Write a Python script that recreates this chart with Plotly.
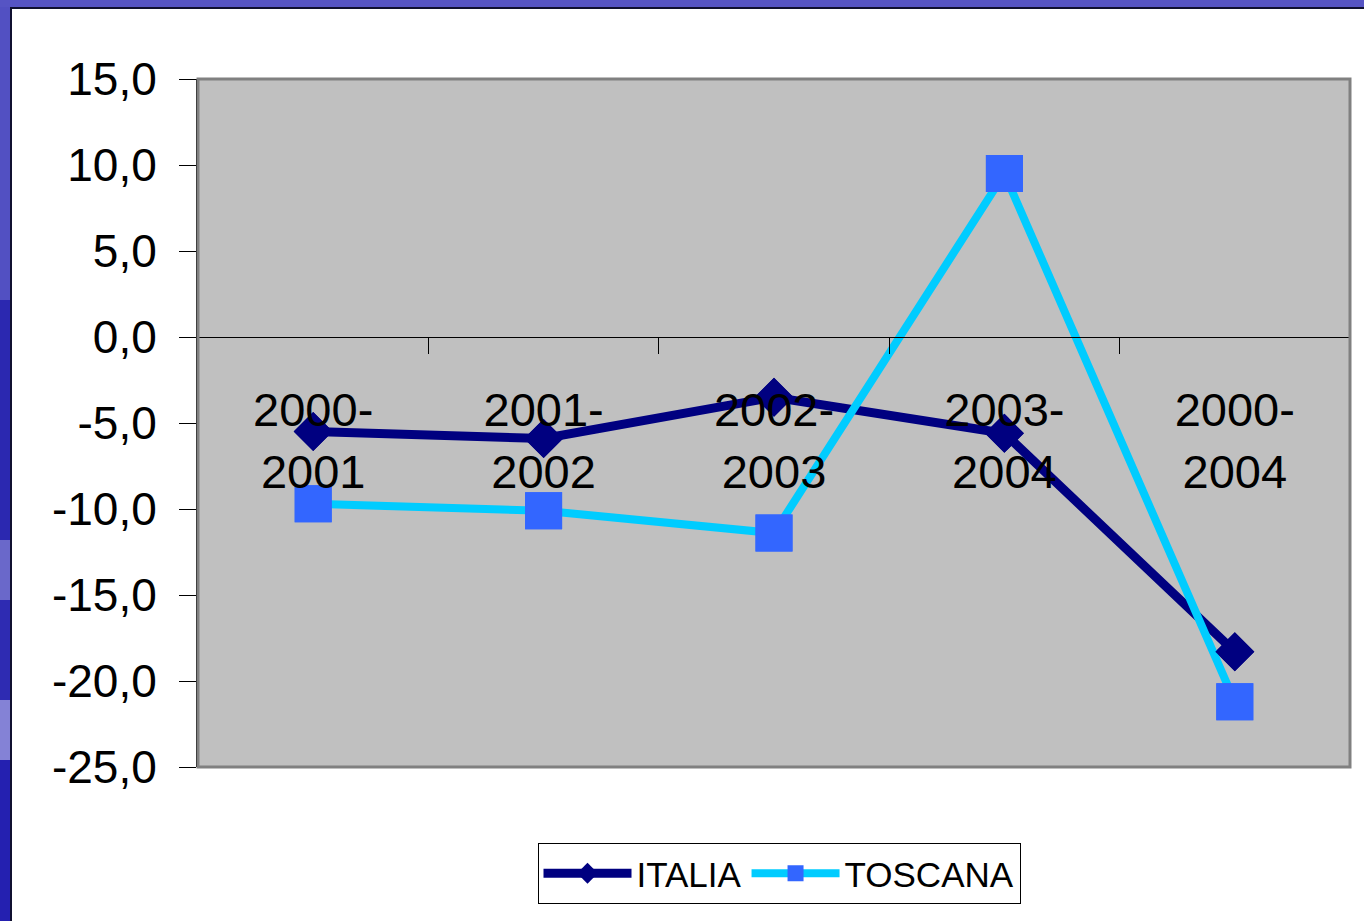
import plotly.graph_objects as go

categories = ["2000-<br>2001", "2001-<br>2002", "2002-<br>2003", "2003-<br>2004", "2000-<br>2004"]
italia = [-5.5, -5.9, -3.5, -5.6, -18.3]
toscana = [-9.7, -10.1, -11.4, 9.5, -21.2]
y_ticks = [-25, -20, -15, -10, -5, 0, 5, 10, 15]
y_ticktext = [f"{v:.1f}".replace(".", ",") for v in y_ticks]

W, H = 1364, 921
L, R, T, B = 198, 14, 79, 154
PW, PH = W - L - R, H - T - B


def px(x):
    return (x - L) / PW


def py(y):
    return (H - B - y) / PH


FONT = "Liberation Sans, Arial, sans-serif"
NAVY = "#000080"
CYAN = "#00CCFF"
SQ = "#3366FF"

fig = go.Figure()
fig.add_trace(go.Scatter(x=categories, y=italia, name="ITALIA", mode="lines+markers",
                         line=dict(color=NAVY, width=9),
                         marker=dict(symbol="diamond", size=30, color=NAVY, line=dict(width=0))))
fig.add_trace(go.Scatter(x=categories, y=toscana, name="TOSCANA", mode="lines+markers",
                         line=dict(color=CYAN, width=8),
                         marker=dict(symbol="square", size=37, color=SQ, line=dict(width=0))))
fig.add_trace(go.Scatter(x=categories, y=italia, mode="markers", showlegend=False, hoverinfo="skip",
                         marker=dict(symbol="diamond", size=30, color=NAVY, line=dict(width=0))))
fig.add_trace(go.Scatter(x=categories, y=toscana, mode="markers", showlegend=False, hoverinfo="skip",
                         marker=dict(symbol="square", size=37, color=SQ, line=dict(width=0))))

shapes = []
# plot area border (gray)
shapes.append(dict(type="rect", xref="paper", yref="paper", x0=0, x1=1, y0=0, y1=1,
                   line=dict(color="#808080", width=3), fillcolor="rgba(0,0,0,0)", layer="above"))
# slide background strips
left_segments = [(0, 300, "#5250C2"), (300, 540, "#2B28B0"), (540, 600, "#6A68CA"),
                 (600, 700, "#2E2BB2"), (700, 760, "#8482D6"), (760, 921, "#2420B0")]
for y0, y1, c in left_segments:
    shapes.append(dict(type="rect", xref="paper", yref="paper",
                       x0=px(0), x1=px(10), y0=py(y1), y1=py(y0),
                       line=dict(width=0), fillcolor=c, layer="above"))
shapes.append(dict(type="rect", xref="paper", yref="paper",
                   x0=px(0), x1=px(W), y0=py(7), y1=py(0),
                   line=dict(width=0), fillcolor="#5654C4", layer="above"))
# dark edge lines
shapes.append(dict(type="line", xref="paper", yref="paper", x0=px(11), x1=px(11),
                   y0=py(H), y1=py(7), line=dict(color="#101030", width=2), layer="above"))
shapes.append(dict(type="line", xref="paper", yref="paper", x0=px(10), x1=px(W),
                   y0=py(8), y1=py(8), line=dict(color="#101030", width=2), layer="above"))

fig.update_layout(
    width=W, height=H,
    margin=dict(l=L, r=R, t=T, b=B, pad=0),
    paper_bgcolor="white",
    plot_bgcolor="#C0C0C0",
    font=dict(family=FONT, color="black"),
    showlegend=True,
    legend=dict(orientation="h", x=px(779), xanchor="center", y=py(843), yanchor="top",
                bgcolor="white", bordercolor="black", borderwidth=1,
                itemwidth=88,
                font=dict(family=FONT, size=35, color="black")),
    shapes=shapes,
    xaxis=dict(type="category", range=[-0.5, 4.5], anchor="free", position=py(337),
               showline=True, linecolor="black", linewidth=1,
               ticks="outside", tickson="boundaries", ticklen=16, tickcolor="black",
               tickfont=dict(family=FONT, size=47, color="black"),
               showgrid=False, zeroline=False, ticklabelstandoff=32),
    yaxis=dict(range=[-25, 15], tickvals=y_ticks, ticktext=y_ticktext,
               showline=True, linecolor="black", linewidth=2,
               ticks="outside", ticklen=17, tickcolor="black",
               tickfont=dict(family=FONT, size=46, color="black"),
               showgrid=False, zeroline=False, ticklabelstandoff=13),
)

fig.write_html("out.html", config={"displayModeBar": False},
               post_script="document.body.style.margin='0';document.body.style.overflow='hidden';")
